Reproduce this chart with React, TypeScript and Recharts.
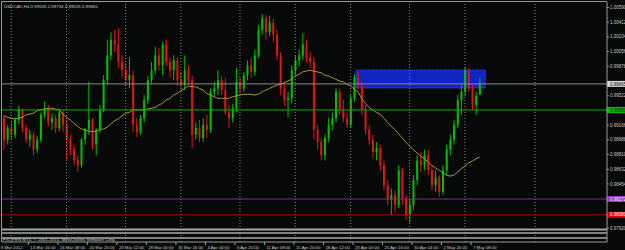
import React from "react";
import { Bar, ComposedChart, Line, ReferenceArea, ReferenceLine, XAxis, YAxis } from "recharts";

const BG = "#060908";
const UP = "#00c000";
const DOWN = "#e01414";
const AXIS = "#9a9a9a";
const TEXT = "#c8c8c8";
const FONT = "'Liberation Sans', Arial, sans-serif";

// USDCAD H4, 9 Mar - 7 May 2012 (each candle ~ two H4 bars)
const opens = [
  0.9925, 0.9899, 0.9913, 0.9905, 0.9923, 0.9935, 0.9913, 0.9899, 0.9905, 0.9887,
  0.9899, 0.9929, 0.9937, 0.992, 0.9925, 0.9913, 0.9932, 0.9917, 0.9899, 0.9887,
  0.9874, 0.9868, 0.9899, 0.9911, 0.9923, 0.9893, 0.9911, 0.9935, 0.9971, 1.0001,
  1.002, 1.0014, 0.9993, 0.9983, 0.9971, 0.9977, 0.9917, 0.9908, 0.9925, 0.9947,
  0.9971, 0.9983, 1.0001, 0.9989, 1.0014, 0.9993, 0.9983, 0.9995, 0.9971, 0.9965,
  0.9983, 0.9971, 0.9905, 0.9913, 0.9901, 0.9917, 0.9911, 0.9957, 0.9961, 0.9971,
  0.9959, 0.9932, 0.9925, 0.9937, 0.9969, 0.9961, 0.9977, 0.9989, 0.9981, 1.0001,
  1.0032, 1.0046, 1.0029, 1.0041, 1.0026, 1.0001, 0.9961, 0.9947, 0.9949, 0.9983,
  0.9995, 1.0001, 1.0014, 0.9998, 0.9993, 0.9911, 0.9896, 0.988, 0.9901, 0.9917,
  0.9925, 0.9957, 0.9935, 0.9925, 0.9917, 0.9949, 0.9974, 0.9965, 0.9935, 0.9911,
  0.9899, 0.9884, 0.9889, 0.9868, 0.9844, 0.9826, 0.9832, 0.982, 0.9862, 0.9828,
  0.9808, 0.982, 0.985, 0.9874, 0.9868, 0.988, 0.9862, 0.9844, 0.9853, 0.9836,
  0.9862, 0.9887, 0.9899, 0.9917, 0.9947, 0.9957, 0.9983, 0.9961, 0.9941, 0.99535,
];
const highs = [
  0.9929, 0.9917, 0.992, 0.9926, 0.994, 0.9937, 0.9917, 0.9911, 0.9908, 0.9903,
  0.9932, 0.9945, 0.9941, 0.9931, 0.9929, 0.9937, 0.9935, 0.9923, 0.9905, 0.9893,
  0.988, 0.9901, 0.9913, 0.9969, 0.9925, 0.9913, 0.9941, 0.9977, 1.002, 1.0029,
  1.0032, 1.0034, 1.0001, 0.9992, 0.9999, 0.9983, 0.9925, 0.9929, 0.9953, 0.9976,
  0.9993, 1.0011, 1.001, 1.0017, 1.002, 0.9998, 1.0001, 0.9999, 0.9981, 1.0001,
  0.9989, 0.9977, 0.992, 0.9923, 0.9925, 0.9929, 0.9961, 0.9969, 0.9983, 0.9976,
  0.9974, 0.9941, 0.9942, 0.9986, 0.9974, 0.9981, 0.9995, 0.9998, 1.0008, 1.0038,
  1.0051, 1.005, 1.0049, 1.0046, 1.0032, 1.0005, 0.9966, 0.9957, 0.9989, 1.0001,
  1.0008, 1.0028, 1.002, 1.0005, 0.9999, 0.9917, 0.9901, 0.9905, 0.9925, 0.9932,
  0.9961, 0.9961, 0.9947, 0.9932, 0.9953, 0.9978, 0.9981, 0.9969, 0.9941, 0.9917,
  0.9905, 0.9896, 0.9893, 0.9874, 0.985, 0.984, 0.9838, 0.9868, 0.9865, 0.9832,
  0.9826, 0.9856, 0.988, 0.9884, 0.9887, 0.9887, 0.9868, 0.9862, 0.9856, 0.9868,
  0.9893, 0.9905, 0.9923, 0.9953, 0.9965, 0.9987, 0.9986, 0.9965, 0.9957, 0.99734,
];
const lows = [
  0.9887, 0.9893, 0.9899, 0.9901, 0.9918, 0.9908, 0.9895, 0.989, 0.988, 0.9883,
  0.9896, 0.9925, 0.9915, 0.9911, 0.9907, 0.9909, 0.9908, 0.9874, 0.988, 0.9868,
  0.986, 0.9865, 0.9893, 0.9905, 0.9887, 0.988, 0.9907, 0.9932, 0.9965, 0.9995,
  1.0005, 0.9986, 0.9974, 0.9965, 0.9961, 0.9908, 0.9902, 0.9905, 0.992, 0.9942,
  0.9966, 0.9978, 0.9983, 0.9977, 0.9988, 0.9974, 0.9971, 0.9964, 0.9959, 0.9959,
  0.9965, 0.9889, 0.9899, 0.9896, 0.9896, 0.9901, 0.9907, 0.9952, 0.9953, 0.9953,
  0.9929, 0.9913, 0.992, 0.9932, 0.9955, 0.9957, 0.9971, 0.9974, 0.9976, 0.9998,
  1.0026, 1.002, 1.0024, 1.0017, 0.9995, 0.9953, 0.994, 0.9926, 0.9943, 0.9977,
  0.9988, 0.9995, 0.9993, 0.9986, 0.9899, 0.9887, 0.9874, 0.9874, 0.9896, 0.9911,
  0.992, 0.9929, 0.992, 0.9913, 0.9913, 0.9945, 0.9959, 0.9929, 0.9905, 0.9893,
  0.9877, 0.9874, 0.9862, 0.9838, 0.982, 0.9808, 0.9811, 0.9816, 0.982, 0.9802,
  0.9799, 0.9814, 0.9844, 0.986, 0.9862, 0.9856, 0.9838, 0.9836, 0.983, 0.9832,
  0.9856, 0.988, 0.9893, 0.9913, 0.9929, 0.9952, 0.9957, 0.9935, 0.9929, 0.99535,
];
const closes = [
  0.9899, 0.9913, 0.9905, 0.9923, 0.9935, 0.9913, 0.9899, 0.9905, 0.9887, 0.9899,
  0.9929, 0.9937, 0.992, 0.9925, 0.9913, 0.9932, 0.9917, 0.9899, 0.9887, 0.9874,
  0.9868, 0.9899, 0.9911, 0.9923, 0.9893, 0.9911, 0.9935, 0.9971, 1.0001, 1.002,
  1.0014, 0.9993, 0.9983, 0.9971, 0.9977, 0.9917, 0.9908, 0.9925, 0.9947, 0.9971,
  0.9983, 1.0001, 0.9989, 1.0014, 0.9993, 0.9983, 0.9995, 0.9971, 0.9965, 0.9983,
  0.9971, 0.9905, 0.9913, 0.9901, 0.9917, 0.9911, 0.9957, 0.9961, 0.9971, 0.9959,
  0.9932, 0.9925, 0.9937, 0.9969, 0.9961, 0.9977, 0.9989, 0.9981, 1.0001, 1.0032,
  1.0046, 1.0029, 1.0041, 1.0026, 1.0001, 0.9961, 0.9947, 0.9949, 0.9983, 0.9995,
  1.0001, 1.0014, 0.9998, 0.9993, 0.9911, 0.9896, 0.988, 0.9901, 0.9917, 0.9925,
  0.9957, 0.9935, 0.9925, 0.9917, 0.9949, 0.9974, 0.9965, 0.9935, 0.9911, 0.9899,
  0.9884, 0.9889, 0.9868, 0.9844, 0.9826, 0.9832, 0.982, 0.9862, 0.9828, 0.9808,
  0.982, 0.985, 0.9874, 0.9868, 0.988, 0.9862, 0.9844, 0.9853, 0.9836, 0.9862,
  0.9887, 0.9899, 0.9917, 0.9947, 0.9957, 0.9983, 0.9961, 0.9941, 0.9952, 0.99665,
];
// moving average (olive line)
const ma = [
  0.9928, 0.9926, 0.9925, 0.9924, 0.9925, 0.9926, 0.9929, 0.993, 0.9931, 0.9934,
  0.9935, 0.9936, 0.9937, 0.9937, 0.9936, 0.9935, 0.993, 0.9926, 0.9923, 0.9919,
  0.9915, 0.9912, 0.9911, 0.9909, 0.9909, 0.9909, 0.9911, 0.9912, 0.9914, 0.9918,
  0.9922, 0.9924, 0.9928, 0.9931, 0.9932, 0.9935, 0.9935, 0.9935, 0.9935, 0.9936,
  0.9937, 0.9938, 0.9941, 0.9943, 0.9947, 0.9949, 0.9953, 0.9955, 0.9958, 0.9961,
  0.9964, 0.9963, 0.9963, 0.9961, 0.9959, 0.9955, 0.9953, 0.9951, 0.9949, 0.9949,
  0.9949, 0.9949, 0.9951, 0.9952, 0.9953, 0.9954, 0.9954, 0.9954, 0.9953, 0.9954,
  0.9957, 0.9959, 0.9961, 0.9963, 0.9965, 0.9966, 0.9968, 0.997, 0.9972, 0.9976,
  0.9978, 0.9981, 0.9982, 0.9983, 0.9982, 0.9981, 0.998, 0.9977, 0.9976, 0.9974,
  0.9972, 0.997, 0.9969, 0.9966, 0.9964, 0.996, 0.9957, 0.9949, 0.9943, 0.9938,
  0.9935, 0.9932, 0.993, 0.9925, 0.992, 0.9915, 0.9911, 0.9906, 0.9901, 0.9896,
  0.9891, 0.9887, 0.9883, 0.9879, 0.9876, 0.9872, 0.9868, 0.9865, 0.9862, 0.9859,
  0.9856, 0.9855, 0.9856, 0.986, 0.9864, 0.9867, 0.9871, 0.9873, 0.9876, 0.9878,
];

const timeLabels = [
  "9 Mar 2012", "13 Mar 16:00", "16 Mar 08:00", "20 Mar 20:00", "23 Mar 12:00",
  "28 Mar 00:00", "30 Mar 16:00", "4 Apr 04:00", "6 Apr 20:00", "11 Apr 08:00",
  "15 Apr 20:00", "18 Apr 12:00", "23 Apr 00:00", "25 Apr 16:00", "30 Apr 04:00",
  "2 May 20:00", "7 May 08:00",
];
const timeIdx = [0, 8, 16, 24, 32, 40, 48, 56, 64, 72, 80, 88, 96, 104, 112, 120, 128];
const gridIdx = [2, 17, 33, 48, 64, 79, 94, 110, 125, 144];
const priceTicks = [
  1.0059, 1.00412, 1.00234, 1.00056, 0.99878, 0.99522, 0.99166, 0.98988, 0.9881,
  0.98632, 0.98454, 0.9792,
];
const SLOTS = 164; // chart shift: empty space right of the last bar

// horizontal lines with their price tags
const tagLevels = [0.99665, 0.9935, 0.98272, 0.9808];
const tagColors = ["#d8d8d8", "#00c000", "#9a3cc8", "#e00000"];
const lineColors = ["#8a8a8a", "#00b000", "#7a2a9a", "#a00000"];
const tagText = ["#000", "#000", "#f0e0ff", "#fff"];
const grayLevels = [0.97903, 0.9786, 0.978];
const zone = { from: 96, to: 130, top: 0.99833, bottom: 0.99615 };

const rows = Array.from({ length: SLOTS }, (_, i) =>
  i < opens.length
    ? { i, o: opens[i], h: highs[i], l: lows[i], c: closes[i], range: [lows[i], highs[i]], ma: ma[i] }
    : { i }
);

function Candle(props: any) {
  const { x, y, width, height, payload } = props;
  if (!payload || payload.o == null) return null;
  const { o, c, h, l } = payload;
  const color = c >= o ? UP : DOWN;
  const top = Math.min(y, y + height);
  const span = Math.abs(height);
  const py = (v: number) => top + ((h - v) / (h - l || 1)) * span;
  const b1 = py(Math.max(o, c));
  const b2 = py(Math.min(o, c));
  const cx = x + width / 2;
  return (
    <g>
      <line x1={cx} x2={cx} y1={top} y2={top + span} stroke={color} strokeWidth={1} />
      <rect x={x} y={b1} width={width} height={Math.max(1, b2 - b1)} fill={color} />
    </g>
  );
}

function TimeTick(props: any) {
  const { x, y, payload } = props;
  const k = timeIdx.indexOf(payload.value);
  if (k < 0) return null;
  return (
    <g>
      <line x1={x - 5} x2={x - 5} y1={y} y2={y + 3} stroke={AXIS} />
      <text x={x - 3} y={y + 6.5} fontSize={4.3} fill={TEXT} fontFamily={FONT}>
        {timeLabels[k]}
      </text>
    </g>
  );
}

function PriceTick(props: any) {
  const { x, y, payload } = props;
  return (
    <text x={x + 1} y={y + 1.6} fontSize={4.5} fill={TEXT} fontFamily={FONT}>
      {payload.value.toFixed(5)}
    </text>
  );
}

function PriceTag(props: any) {
  const { viewBox, text, bg, fg } = props;
  if (!viewBox) return null;
  const x = viewBox.x + viewBox.width;
  const y = viewBox.y;
  return (
    <g>
      <rect x={x} y={y - 3} width={20} height={6} fill={bg} />
      <text x={x + 3} y={y + 1.6} fontSize={4.5} fill={fg} fontFamily={FONT}>
        {text.toFixed(5)}
      </text>
    </g>
  );
}

export default function App() {
  return (
    <div style={{ width: 625, height: 250, background: BG, position: "relative", overflow: "hidden" }}>
      <style>{`body{margin:0;background:${BG}}`}</style>
      <ComposedChart width={625} height={250} data={rows} margin={{ top: 2, right: 0, bottom: 0, left: 2 }}>
        <XAxis
          dataKey="i"
          type="category"
          height={8}
          ticks={timeIdx}
          interval={0}
          tickLine={false}
          tickSize={0}
          tickMargin={0}
          axisLine={{ stroke: AXIS }}
          tick={(p: any) => <TimeTick {...p} />}
        />
        <YAxis
          orientation="right"
          width={18}
          type="number"
          domain={[0.97752, 1.00656]}
          allowDataOverflow
          ticks={priceTicks}
          interval={0}
          tickSize={2}
          tickMargin={0}
          tickLine={{ stroke: AXIS }}
          axisLine={{ stroke: AXIS }}
          tick={(p: any) => <PriceTick {...p} />}
        />
        {gridIdx.map((g) => (
          <ReferenceLine key={"g" + g} x={g} stroke="#8a8a8a" strokeDasharray="1 2" />
        ))}
        <ReferenceArea
          x1={zone.from}
          x2={zone.to}
          y1={zone.bottom}
          y2={zone.top}
          fill="#1024c4"
          fillOpacity={1}
          stroke="#3a50e8"
          strokeDasharray="1 1"
        />
        {grayLevels.map((v, k) => (
          <ReferenceLine key={"s" + k} y={v} stroke="#a8a8a8" strokeWidth={k === 0 ? 2 : 1.5} />
        ))}
        <Bar dataKey="range" barSize={2} isAnimationActive={false} shape={(p: any) => <Candle {...p} />} />
        <Line
          dataKey="ma"
          type="linear"
          stroke="#aa9630"
          strokeWidth={1}
          dot={false}
          isAnimationActive={false}
        />
        {tagLevels.map((v, k) => (
          <ReferenceLine
            key={"t" + k}
            y={v}
            stroke={lineColors[k]}
            strokeWidth={1}
            label={<PriceTag text={v} bg={tagColors[k]} fg={tagText[k]} />}
          />
        ))}
      </ComposedChart>
      <svg width={625} height={250} style={{ position: "absolute", left: 0, top: 0, pointerEvents: "none" }}>
        <line x1={1.5} x2={607} y1={1.5} y2={1.5} stroke={AXIS} />
        <line x1={1.5} x2={1.5} y1={1.5} y2={242} stroke={AXIS} />
        <text x={4} y={7.5} fontSize={4.4} fill={TEXT} fontFamily={FONT}>
          USDCAD,H4  0.99535 0.99734 0.99535 0.99665
        </text>
        <text x={3} y={241} fontSize={4.4} fill={TEXT} fontFamily={FONT}>
          FXOPEN MT4, © 2001-2010, MetaQuotes Software Corp.
        </text>
      </svg>
    </div>
  );
}
